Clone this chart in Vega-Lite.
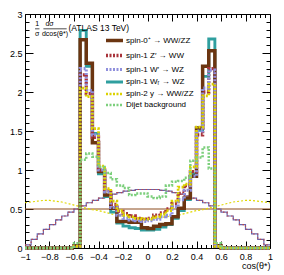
{
  "$schema": "https://vega.github.io/schema/vega-lite/v6.json",
  "width": 245,
  "height": 234,
  "autosize": {"type": "none"},
  "padding": {"left": 25, "top": 14, "right": 14, "bottom": 27},
  "background": "white",
  "config": {
    "view": {"stroke": "black", "strokeWidth": 1},
    "font": "Liberation Sans",
    "axis": {"grid": false, "domain": false, "tickColor": "black", "tickWidth": 1, "labelColor": "black", "labelFont": "Liberation Sans", "labelFontSize": 9, "titleFont": "Liberation Sans", "titleColor": "black"}
  },
  "datasets": {
    "hist": [
      {"x": -1, "s0": 0, "zp": 0, "wp": 0, "wr": 0, "g": 0, "qcd": 0},
      {"x": -0.6, "s0": 0.03, "zp": 0.02, "wp": 0.02, "wr": 0.02, "g": 0.02, "qcd": 0.06},
      {"x": -0.55, "s0": 2.67, "zp": 2.22, "wp": 2.30, "wr": 2.79, "g": 2.05, "qcd": 1.13},
      {"x": -0.5, "s0": 2.37, "zp": 1.98, "wp": 2.02, "wr": 2.33, "g": 1.94, "qcd": 1.21},
      {"x": -0.45, "s0": 1.35, "zp": 1.42, "wp": 1.45, "wr": 1.47, "g": 1.53, "qcd": 1.17},
      {"x": -0.4, "s0": 0.98, "zp": 1.00, "wp": 1.00, "wr": 0.95, "g": 1.05, "qcd": 1.04},
      {"x": -0.35, "s0": 0.68, "zp": 0.74, "wp": 0.72, "wr": 0.66, "g": 0.76, "qcd": 0.96},
      {"x": -0.3, "s0": 0.51, "zp": 0.56, "wp": 0.52, "wr": 0.46, "g": 0.60, "qcd": 0.88},
      {"x": -0.25, "s0": 0.34, "zp": 0.47, "wp": 0.42, "wr": 0.32, "g": 0.48, "qcd": 0.80},
      {"x": -0.2, "s0": 0.34, "zp": 0.44, "wp": 0.38, "wr": 0.28, "g": 0.42, "qcd": 0.77},
      {"x": -0.15, "s0": 0.33, "zp": 0.41, "wp": 0.36, "wr": 0.26, "g": 0.40, "qcd": 0.68},
      {"x": -0.1, "s0": 0.33, "zp": 0.38, "wp": 0.35, "wr": 0.25, "g": 0.38, "qcd": 0.70},
      {"x": -0.05, "s0": 0.26, "zp": 0.37, "wp": 0.34, "wr": 0.23, "g": 0.37, "qcd": 0.70},
      {"x": 0, "s0": 0.25, "zp": 0.38, "wp": 0.35, "wr": 0.23, "g": 0.37, "qcd": 0.66},
      {"x": 0.05, "s0": 0.28, "zp": 0.42, "wp": 0.37, "wr": 0.24, "g": 0.40, "qcd": 0.64},
      {"x": 0.1, "s0": 0.30, "zp": 0.45, "wp": 0.40, "wr": 0.27, "g": 0.43, "qcd": 0.66},
      {"x": 0.15, "s0": 0.31, "zp": 0.50, "wp": 0.42, "wr": 0.30, "g": 0.48, "qcd": 0.80},
      {"x": 0.2, "s0": 0.40, "zp": 0.57, "wp": 0.53, "wr": 0.38, "g": 0.60, "qcd": 0.85},
      {"x": 0.25, "s0": 0.51, "zp": 0.70, "wp": 0.62, "wr": 0.48, "g": 0.78, "qcd": 0.86},
      {"x": 0.3, "s0": 0.64, "zp": 0.80, "wp": 0.74, "wr": 0.62, "g": 0.82, "qcd": 0.90},
      {"x": 0.35, "s0": 0.92, "zp": 0.98, "wp": 0.92, "wr": 0.95, "g": 1.04, "qcd": 1.12},
      {"x": 0.4, "s0": 1.54, "zp": 1.45, "wp": 1.50, "wr": 1.51, "g": 1.55, "qcd": 1.16},
      {"x": 0.45, "s0": 2.33, "zp": 2.00, "wp": 2.05, "wr": 2.20, "g": 1.95, "qcd": 1.29},
      {"x": 0.5, "s0": 2.53, "zp": 2.30, "wp": 2.28, "wr": 2.68, "g": 2.10, "qcd": 1.02},
      {"x": 0.55, "s0": 0.03, "zp": 0.02, "wp": 0.02, "wr": 0.02, "g": 0.02, "qcd": 0.06},
      {"x": 0.6, "s0": 0, "zp": 0, "wp": 0, "wr": 0, "g": 0, "qcd": 0},
      {"x": 1, "s0": 0, "zp": 0, "wp": 0, "wr": 0, "g": 0, "qcd": 0}
    ],
    "flat": [{"x": -1, "y": 0.5}, {"x": 1, "y": 0.5}],
    "stair": [
      {"x": -1, "y": 0.04}, {"x": -0.95, "y": 0.11}, {"x": -0.9, "y": 0.18}, {"x": -0.85, "y": 0.24},
      {"x": -0.8, "y": 0.30}, {"x": -0.75, "y": 0.36}, {"x": -0.7, "y": 0.41}, {"x": -0.65, "y": 0.46},
      {"x": -0.6, "y": 0.50}, {"x": -0.55, "y": 0.54}, {"x": -0.5, "y": 0.58}, {"x": -0.45, "y": 0.61},
      {"x": -0.4, "y": 0.64}, {"x": -0.35, "y": 0.67}, {"x": -0.3, "y": 0.69}, {"x": -0.25, "y": 0.71},
      {"x": -0.2, "y": 0.73}, {"x": -0.15, "y": 0.74}, {"x": -0.1, "y": 0.75}, {"x": -0.05, "y": 0.75},
      {"x": 0, "y": 0.75}, {"x": 0.05, "y": 0.75}, {"x": 0.1, "y": 0.74}, {"x": 0.15, "y": 0.73},
      {"x": 0.2, "y": 0.71}, {"x": 0.25, "y": 0.69}, {"x": 0.3, "y": 0.67}, {"x": 0.35, "y": 0.64},
      {"x": 0.4, "y": 0.61}, {"x": 0.45, "y": 0.58}, {"x": 0.5, "y": 0.54}, {"x": 0.55, "y": 0.50},
      {"x": 0.6, "y": 0.46}, {"x": 0.65, "y": 0.41}, {"x": 0.7, "y": 0.36}, {"x": 0.75, "y": 0.30},
      {"x": 0.8, "y": 0.24}, {"x": 0.85, "y": 0.18}, {"x": 0.9, "y": 0.11}, {"x": 0.95, "y": 0.04},
      {"x": 1, "y": 0.04}
    ],
    "spin2gen": [
      {"x": -1, "y": 0.58}, {"x": -0.95, "y": 0.59}, {"x": -0.9, "y": 0.60}, {"x": -0.85, "y": 0.61},
      {"x": -0.8, "y": 0.61}, {"x": -0.75, "y": 0.60}, {"x": -0.7, "y": 0.59}, {"x": -0.65, "y": 0.57},
      {"x": -0.6, "y": 0.55}, {"x": -0.55, "y": 0.53}, {"x": -0.5, "y": 0.51}, {"x": -0.45, "y": 0.49},
      {"x": -0.4, "y": 0.48}, {"x": -0.35, "y": 0.46}, {"x": -0.3, "y": 0.44}, {"x": -0.25, "y": 0.42},
      {"x": -0.2, "y": 0.41}, {"x": -0.15, "y": 0.40}, {"x": -0.1, "y": 0.39}, {"x": -0.05, "y": 0.38},
      {"x": 0, "y": 0.38}, {"x": 0.05, "y": 0.38}, {"x": 0.1, "y": 0.39}, {"x": 0.15, "y": 0.40},
      {"x": 0.2, "y": 0.41}, {"x": 0.25, "y": 0.42}, {"x": 0.3, "y": 0.44}, {"x": 0.35, "y": 0.46},
      {"x": 0.4, "y": 0.48}, {"x": 0.45, "y": 0.49}, {"x": 0.5, "y": 0.51}, {"x": 0.55, "y": 0.53},
      {"x": 0.6, "y": 0.55}, {"x": 0.65, "y": 0.57}, {"x": 0.7, "y": 0.59}, {"x": 0.75, "y": 0.60},
      {"x": 0.8, "y": 0.61}, {"x": 0.85, "y": 0.61}, {"x": 0.9, "y": 0.60}, {"x": 0.95, "y": 0.59},
      {"x": 1, "y": 0.58}
    ],
    "one": [{"a": 1}]
  },
  "resolve": {"axis": {"x": "independent", "y": "independent"}},
  "layer": [
    {
      "data": {"name": "flat"},
      "mark": {"type": "line", "color": "#8b4a1c", "strokeWidth": 1},
      "encoding": {
        "x": {"field": "x", "type": "quantitative", "scale": {"domain": [-1, 1], "nice": false},
              "axis": {"orient": "bottom", "values": [-1, -0.8, -0.6, -0.4, -0.2, 0, 0.2, 0.4, 0.6, 0.8, 1], "labels": false, "tickSize": 7, "offset": -7, "title": null}},
        "y": {"field": "y", "type": "quantitative", "scale": {"domain": [0, 3], "nice": false, "zero": true},
              "axis": {"orient": "left", "values": [0, 0.5, 1, 1.5, 2, 2.5, 3], "labels": false, "tickSize": 8, "offset": -8, "title": null}}
      }
    },
    {
      "data": {"name": "stair"},
      "mark": {"type": "line", "interpolate": "step-after", "color": "#6464b0", "strokeWidth": 1.2},
      "encoding": {
        "x": {"field": "x", "type": "quantitative", "scale": {"domain": [-1, 1], "nice": false},
              "axis": {"orient": "bottom", "values": [-0.96,-0.92,-0.88,-0.84,-0.76,-0.72,-0.68,-0.64,-0.56,-0.52,-0.48,-0.44,-0.36,-0.32,-0.28,-0.24,-0.16,-0.12,-0.08,-0.04,0.04,0.08,0.12,0.16,0.24,0.28,0.32,0.36,0.44,0.48,0.52,0.56,0.64,0.68,0.72,0.76,0.84,0.88,0.92,0.96], "labels": false, "tickSize": 3.5, "offset": -3.5, "title": null}},
        "y": {"field": "y", "type": "quantitative", "scale": {"domain": [0, 3], "nice": false},
              "axis": {"orient": "left", "values": [0.1,0.2,0.3,0.4,0.6,0.7,0.8,0.9,1.1,1.2,1.3,1.4,1.6,1.7,1.8,1.9,2.1,2.2,2.3,2.4,2.6,2.7,2.8,2.9], "labels": false, "tickSize": 4, "offset": -4, "title": null}}
      }
    },
    {
      "data": {"name": "stair"},
      "mark": {"type": "line", "interpolate": "step-after", "color": "#c04848", "strokeWidth": 1.1, "strokeDash": [1.5, 2.5]},
      "encoding": {
        "x": {"field": "x", "type": "quantitative", "scale": {"domain": [-1, 1], "nice": false},
              "axis": {"orient": "top", "values": [-1, -0.8, -0.6, -0.4, -0.2, 0, 0.2, 0.4, 0.6, 0.8, 1], "labels": false, "tickSize": 7, "offset": -7, "title": null}},
        "y": {"field": "y", "type": "quantitative", "scale": {"domain": [0, 3], "nice": false},
              "axis": {"orient": "right", "values": [0, 0.5, 1, 1.5, 2, 2.5, 3], "labels": false, "tickSize": 8, "offset": -8, "title": null}}
      }
    },
    {
      "data": {"name": "spin2gen"},
      "mark": {"type": "line", "color": "#e0d800", "strokeWidth": 1.2, "strokeDash": [2, 2]},
      "encoding": {
        "x": {"field": "x", "type": "quantitative", "scale": {"domain": [-1, 1], "nice": false},
              "axis": {"orient": "top", "values": [-0.96,-0.92,-0.88,-0.84,-0.76,-0.72,-0.68,-0.64,-0.56,-0.52,-0.48,-0.44,-0.36,-0.32,-0.28,-0.24,-0.16,-0.12,-0.08,-0.04,0.04,0.08,0.12,0.16,0.24,0.28,0.32,0.36,0.44,0.48,0.52,0.56,0.64,0.68,0.72,0.76,0.84,0.88,0.92,0.96], "labels": false, "tickSize": 3.5, "offset": -3.5, "title": null}},
        "y": {"field": "y", "type": "quantitative", "scale": {"domain": [0, 3], "nice": false},
              "axis": {"orient": "right", "values": [0.1,0.2,0.3,0.4,0.6,0.7,0.8,0.9,1.1,1.2,1.3,1.4,1.6,1.7,1.8,1.9,2.1,2.2,2.3,2.4,2.6,2.7,2.8,2.9], "labels": false, "tickSize": 4, "offset": -4, "title": null}}
      }
    },
    {
      "data": {"name": "hist"},
      "transform": [
        {"fold": ["wr", "s0", "zp", "wp", "g", "qcd"], "as": ["s", "y"]}
      ],
      "mark": {"type": "line", "interpolate": "step-after", "strokeCap": "butt", "strokeJoin": "miter"},
      "encoding": {
        "x": {"field": "x", "type": "quantitative", "scale": {"domain": [-1, 1], "nice": false},
              "axis": {"orient": "bottom", "values": [-1, -0.8, -0.6, -0.4, -0.2, 0, 0.2, 0.4, 0.6, 0.8, 1], "format": "~g", "ticks": false, "labelPadding": 4, "labelFlush": false, "title": "cos(θ*)", "titleAnchor": "end", "titleAlign": "right", "titleFontSize": 9, "titleFontWeight": "normal", "titlePadding": 0}},
        "y": {"field": "y", "type": "quantitative", "scale": {"domain": [0, 3], "nice": false},
              "axis": {"orient": "left", "values": [0, 0.5, 1, 1.5, 2, 2.5, 3], "format": "~g", "ticks": false, "labelPadding": 3, "labelFlush": false, "title": null}},
        "color": {"field": "s", "type": "nominal",
          "scale": {"domain": ["s0", "zp", "wp", "wr", "g", "qcd"],
                    "range": ["#6b3511", "#a8333a", "#8f8fdc", "#2f9f9f", "#dcd200", "#7ccf7c"]},
          "legend": {"title": null, "orient": "none", "legendX": 85, "legendY": 22, "padding": 0, "symbolType": "M-3.4,0H3.4", "symbolSize": 25, "labelFontSize": 8, "labelFont": "Liberation Sans", "labelColor": "black", "labelOffset": 7, "rowPadding": 0, "symbolFillColor": "transparent",
            "labelExpr": "{'s0': 'spin-0⁺ → WW/ZZ', 'zp': 'spin-1 Z′ → WW', 'wp': 'spin-1 W′ → WZ', 'wr': 'spin-1 Wᵣ → WZ', 'g': 'spin-2 y → WW/ZZ', 'qcd': 'Dijet background'}[datum.value]"}},
        "strokeDash": {"field": "s", "type": "nominal",
          "scale": {"domain": ["s0", "zp", "wp", "wr", "g", "qcd"],
                    "range": [[1, 0], [2, 1.5], [2, 1.5], [1, 0], [2, 1.5], [2, 1.5]]},
          "legend": {"title": null, "orient": "none", "legendX": 85, "legendY": 22, "padding": 0, "symbolType": "M-3.4,0H3.4", "symbolSize": 25, "labelFontSize": 8, "labelFont": "Liberation Sans", "labelColor": "black", "labelOffset": 7, "rowPadding": 0,
            "labelExpr": "{'s0': 'spin-0⁺ → WW/ZZ', 'zp': 'spin-1 Z′ → WW', 'wp': 'spin-1 W′ → WZ', 'wr': 'spin-1 Wᵣ → WZ', 'g': 'spin-2 y → WW/ZZ', 'qcd': 'Dijet background'}[datum.value]"}},
        "strokeWidth": {"field": "s", "type": "nominal",
          "scale": {"domain": ["s0", "zp", "wp", "wr", "g", "qcd"],
                    "range": [3.5, 2.5, 2.5, 3, 2.5, 2]},
          "legend": {"title": null, "orient": "none", "legendX": 85, "legendY": 22, "padding": 0, "symbolType": "M-3.4,0H3.4", "symbolSize": 25, "labelFontSize": 8, "labelFont": "Liberation Sans", "labelColor": "black", "labelOffset": 7, "rowPadding": 0,
            "labelExpr": "{'s0': 'spin-0⁺ → WW/ZZ', 'zp': 'spin-1 Z′ → WW', 'wp': 'spin-1 W′ → WZ', 'wr': 'spin-1 Wᵣ → WZ', 'g': 'spin-2 y → WW/ZZ', 'qcd': 'Dijet background'}[datum.value]"}}
      }
    },
    {
      "data": {"name": "one"},
      "mark": {"type": "text", "text": "1", "fontSize": 7, "font": "Liberation Sans", "align": "center", "baseline": "middle", "color": "black"},
      "encoding": {"x": {"datum": -0.9, "type": "quantitative", "scale": {"domain": [-1, 1], "nice": false}, "axis": null}, "y": {"datum": 2.87, "type": "quantitative", "scale": {"domain": [0, 3], "nice": false}, "axis": null}}
    },
    {
      "data": {"name": "one"},
      "mark": {"type": "text", "text": "σ", "fontSize": 7, "font": "Liberation Sans", "align": "center", "baseline": "middle", "color": "black"},
      "encoding": {"x": {"datum": -0.9, "type": "quantitative", "scale": {"domain": [-1, 1], "nice": false}, "axis": null}, "y": {"datum": 2.75, "type": "quantitative", "scale": {"domain": [0, 3], "nice": false}, "axis": null}}
    },
    {
      "data": {"name": "one"},
      "mark": {"type": "rule", "color": "black", "strokeWidth": 0.7},
      "encoding": {"x": {"datum": -0.918, "type": "quantitative", "scale": {"domain": [-1, 1], "nice": false}, "axis": null}, "x2": {"datum": -0.882}, "y": {"datum": 2.81, "type": "quantitative", "scale": {"domain": [0, 3], "nice": false}, "axis": null}}
    },
    {
      "data": {"name": "one"},
      "mark": {"type": "text", "text": "dσ", "fontSize": 7, "font": "Liberation Sans", "align": "center", "baseline": "middle", "color": "black"},
      "encoding": {"x": {"datum": -0.8, "type": "quantitative", "scale": {"domain": [-1, 1], "nice": false}, "axis": null}, "y": {"datum": 2.87, "type": "quantitative", "scale": {"domain": [0, 3], "nice": false}, "axis": null}}
    },
    {
      "data": {"name": "one"},
      "mark": {"type": "text", "text": "dcos(θ*)", "fontSize": 7, "font": "Liberation Sans", "align": "center", "baseline": "middle", "color": "black"},
      "encoding": {"x": {"datum": -0.755, "type": "quantitative", "scale": {"domain": [-1, 1], "nice": false}, "axis": null}, "y": {"datum": 2.75, "type": "quantitative", "scale": {"domain": [0, 3], "nice": false}, "axis": null}}
    },
    {
      "data": {"name": "one"},
      "mark": {"type": "rule", "color": "black", "strokeWidth": 0.7},
      "encoding": {"x": {"datum": -0.85, "type": "quantitative", "scale": {"domain": [-1, 1], "nice": false}, "axis": null}, "x2": {"datum": -0.66}, "y": {"datum": 2.81, "type": "quantitative", "scale": {"domain": [0, 3], "nice": false}, "axis": null}}
    },
    {
      "data": {"name": "one"},
      "mark": {"type": "text", "text": "(ATLAS 13 TeV)", "fontSize": 8.5, "font": "Liberation Sans", "align": "left", "baseline": "middle", "color": "black"},
      "encoding": {"x": {"datum": -0.645, "type": "quantitative", "scale": {"domain": [-1, 1], "nice": false}, "axis": null}, "y": {"datum": 2.82, "type": "quantitative", "scale": {"domain": [0, 3], "nice": false}, "axis": null}}
    }
  ]
}
